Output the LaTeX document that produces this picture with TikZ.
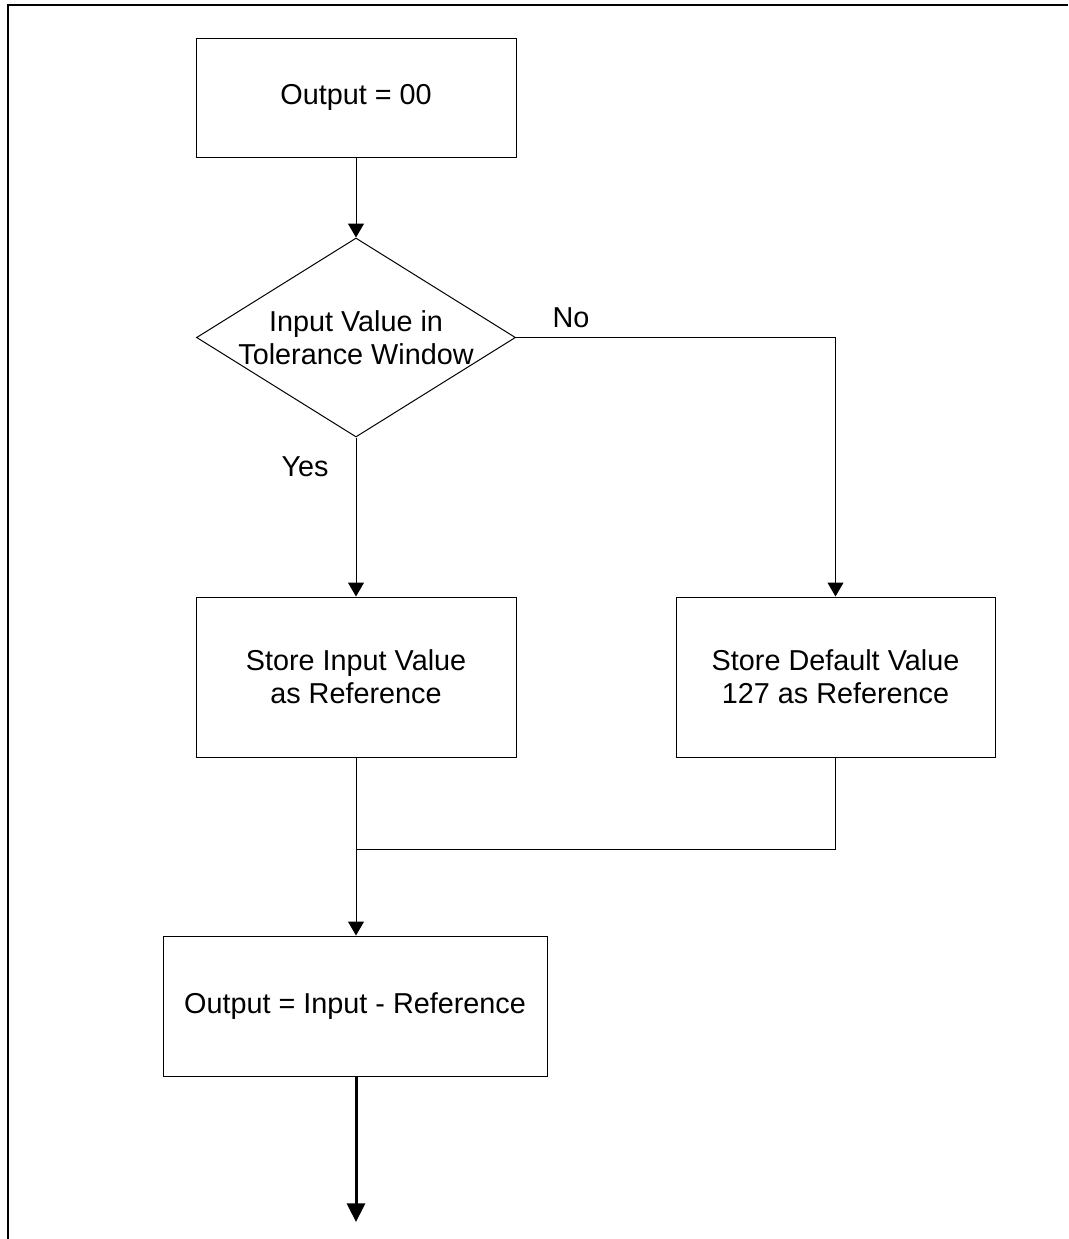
\documentclass[tikz,border=0pt]{standalone}
\usepackage{fontspec}
\setmainfont{Liberation Sans}
\usepackage{tikz}
\usetikzlibrary{arrows.meta,shapes.geometric}

\tikzset{
  txt/.style={font=\fontsize{21.6pt}{24.8pt}\selectfont},
  procbox/.style={txt,draw,line width=0.75pt,inner sep=0pt,align=center,minimum width=#1},
  flow/.style={line width=0.75pt,-{Triangle[length=10.5pt,width=12pt]}},
  plain/.style={line width=0.75pt}
}

\begin{document}
\begin{tikzpicture}[x=0.75pt,y=0.75pt,yscale=-1,xscale=1]
\useasboundingbox (0,0) rectangle (1068,1239);

%Frame
\draw[line width=1.5pt] (7.5,1239) -- (7.5,5.3) -- (1068,5.3);

%Shape: Rectangle [id:out0]
\node[procbox=240pt,minimum height=89.25pt] (out0) at (356,97.5) {Output = 00};
%Shape: Diamond [id:check]
\node[txt,draw,line width=0.75pt,diamond,aspect=1.6,inner sep=-6pt,align=center,
      minimum width=239.25pt,minimum height=149.25pt] (check) at (356,337.5) {Input Value in\\Tolerance Window};
%Shape: Rectangle [id:storein]
\node[procbox=240pt,minimum height=120pt] (storein) at (356,677) {Store Input Value\\as Reference};
%Shape: Rectangle [id:storedef]
\node[procbox=239.25pt,minimum height=120pt] (storedef) at (835.5,677) {Store Default Value\\127 as Reference};
%Shape: Rectangle [id:diff]
\node[procbox=288pt,minimum height=105pt] (diff) at (355,1006) {Output = Input - Reference};

\coordinate (joinL) at (356,849);
\coordinate (joinR) at (835.5,849);
\coordinate (exit) at (356,1222);

%Straight Lines
\draw[flow] (out0.south) -- (check.north);
\draw[flow] (check.east) -| (storedef.north);
\draw[flow] (check.south) -- (storein.north);
\draw[plain] (storein.south) -- (joinL) -- (joinR) -- (storedef.south);
\draw[flow] (joinL) -- (diff.north -| joinL);
\draw[line width=2.25pt,-{Triangle[length=14pt,width=13.5pt]}] (diff.south -| exit) -- (exit);

% Text Node
\node[txt,inner sep=0pt] (nolbl) at (571,318) {No};
% Text Node
\node[txt,inner sep=0pt] (yeslbl) at (305,467) {Yes};

\end{tikzpicture}
\end{document}
